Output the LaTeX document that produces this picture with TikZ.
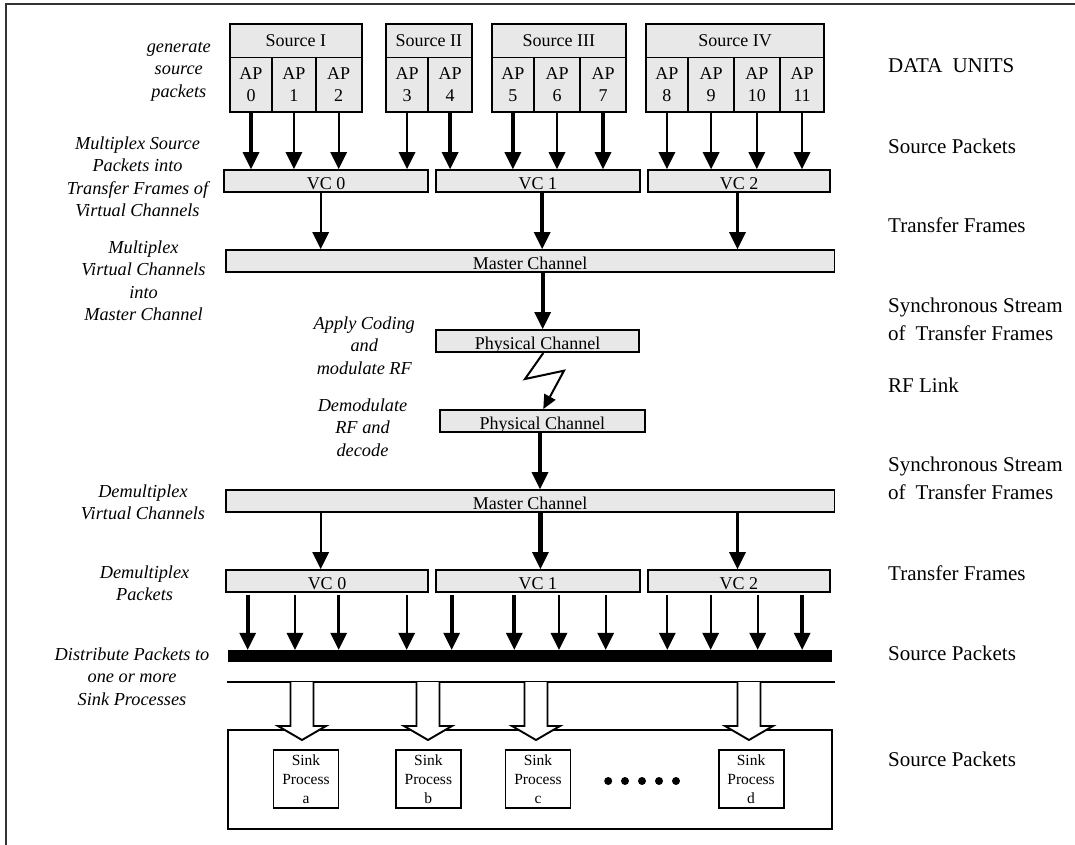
\documentclass[tikz,border=0pt]{standalone}
\usepackage{fontspec}
\setmainfont{Liberation Serif}
\usetikzlibrary{arrows.meta,calc}
\definecolor{boxgray}{RGB}{232,232,232}
\tikzset{
  box/.style={draw, fill=boxgray, line width=1.9pt, inner sep=0pt, font=\fontsize{18}{22}\selectfont, align=center},
  chan/.style={box, text height=17.5pt, text depth=0pt},
  sinkbox/.style={draw, fill=white, line width=1.9pt, inner sep=0pt, font=\fontsize{15.5}{19}\selectfont, align=center, minimum width=65, minimum height=57.7},
  lbl/.style={font=\fontsize{18.3}{22.5}\selectfont\itshape, align=center, inner sep=0pt},
  rlbl/.style={font=\fontsize{21}{27.5}\selectfont, align=left, anchor=west, inner sep=0pt},
  tarrow/.style={line width=2.2pt, -{Triangle[length=17pt,width=17pt,line width=0pt]}},
  marrow/.style={line width=2.8pt, -{Triangle[length=17pt,width=17pt,line width=0pt]}},
  karrow/.style={line width=4.3pt, -{Triangle[length=17pt,width=17pt,line width=0pt]}},
  hollow/.style={draw, fill=white, line width=1.9pt, line join=miter},
}
\begin{document}
\begin{tikzpicture}[x=1pt,y=-1pt]
\useasboundingbox (0,0) rectangle (1075,845);
% outer frame (left and top edges visible)
\draw[line width=2pt, black!80] (6,870) -- (6,4) -- (1090,4);

% ---------- sources ----------
\node[box, minimum width=131.6, minimum height=33.5] (s1) at (295.8,40.75) {Source I};
\node[box, minimum width=86.1,  minimum height=33.5] (s2) at (428.75,40.75) {Source II};
\node[box, minimum width=134.3, minimum height=33.5] (s3) at (558.85,40.75) {Source III};
\node[box, minimum width=178.7, minimum height=33.5] (s4) at (735.05,40.75) {Source IV};
\foreach \n/\c/\w in {0/251/42, 1/293.9/43.8, 2/338.7/45.8, 3/407.05/42.7, 4/450.1/43.4, 5/512.85/42.3,
                      6/557/46, 7/603/46, 8/666.95/42.5, 9/711.1/45.8, 10/756.8/45.6, 11/802/44.8}
  \node[box, minimum width=\w, minimum height=54.5] (ap\n) at (\c,84.75) {AP\\\n};

% ---------- upper chain ----------
\node[chan, minimum width=204.3, minimum height=22] (vc0t) at (326.15,181) {VC 0};
\node[chan, minimum width=204.3, minimum height=22] (vc1t) at (537.85,181) {VC 1};
\node[chan, minimum width=182,   minimum height=22] (vc2t) at (739,181) {VC 2};
\node[chan, minimum width=608.8, minimum height=22] (mastert) at (530.1,261) {Master Channel};
\node[chan, minimum width=203.6, minimum height=22] (phys1) at (537.5,341) {Physical Channel};
\node[chan, minimum width=205.3, minimum height=22.3] (phys2) at (542.35,421.15) {Physical Channel};
\node[chan, minimum width=608.8, minimum height=22] (masterb) at (530.1,501) {Master Channel};
\node[chan, minimum width=202.6, minimum height=22] (vc0b) at (327,581) {VC 0};
\node[chan, minimum width=204.3, minimum height=22] (vc1b) at (537.85,581) {VC 1};
\node[chan, minimum width=182.3, minimum height=22] (vc2b) at (738.85,581) {VC 2};

% AP -> VC arrows
\foreach \n/\v/\s in {0/vc0t/karrow, 1/vc0t/tarrow, 2/vc0t/tarrow, 3/vc0t/tarrow,
                      4/vc1t/karrow, 5/vc1t/karrow, 6/vc1t/tarrow, 7/vc1t/karrow,
                      8/vc2t/tarrow, 9/vc2t/tarrow, 10/vc2t/tarrow, 11/vc2t/tarrow}
  \draw[\s] (ap\n.south) -- (ap\n.south |- \v.north);

% VC -> master
\draw[tarrow] (320.7,0 |- vc0t.south) -- (320.7,0 |- mastert.north);
\draw[karrow] (542.2,0 |- vc1t.south) -- (542.2,0 |- mastert.north);
\draw[tarrow] (737.5,0 |- vc2t.south) -- (737.5,0 |- mastert.north);
% master -> physical
\draw[karrow] (542.7,0 |- mastert.south) -- (542.7,0 |- phys1.north);
% RF link
\draw[line width=2pt, line join=miter, -{Triangle[length=14pt,width=13pt,line width=0pt]}]
  (543.3,0 |- phys1.south) -- (525,379) -- (564,370.7) -- (543.3,0 |- phys2.north);
% physical -> master
\draw[karrow] (540,0 |- phys2.south) -- (540,0 |- masterb.north);
% master -> VCs
\draw[tarrow] (320.7,0 |- masterb.south) -- (320.7,0 |- vc0b.north);
\draw[karrow] (540.4,0 |- masterb.south) -- (540.4,0 |- vc1b.north);
\draw[tarrow] (737.5,0 |- masterb.south) -- (737.5,0 |- vc2b.north);

% ---------- packet bar ----------
\node[fill=black, inner sep=0pt, minimum width=603.4, minimum height=11.7] (bar) at (530,655.85) {};
\foreach \x/\v/\s in {247.7/vc0b/karrow, 295/vc0b/tarrow, 338.7/vc0b/marrow, 406.7/vc0b/tarrow,
                      451.7/vc1b/karrow, 514.3/vc1b/karrow, 559/vc1b/tarrow, 605.7/vc1b/tarrow,
                      667.3/vc2b/tarrow, 710.7/vc2b/tarrow, 757.7/vc2b/tarrow, 802.2/vc2b/karrow}
  \draw[\s, shorten <=2pt] (\x,0 |- \v.south) -- (\x,0 |- bar.north);

% distribution line
\coordinate (ln0) at (226.7,682);
\coordinate (ln1) at (834.8,682);
\draw[line width=1.9pt] (ln0) -- (ln1);

% ---------- sink area ----------
\node[draw, line width=1.9pt, inner sep=0pt, minimum width=604, minimum height=99.3] (sinkarea) at (529.7,779.65) {};
\node[sinkbox] (sa) at (306,778.85) {Sink\\Process\\a};
\node[sinkbox] (sb) at (428.35,778.85) {Sink\\Process\\b};
\node[sinkbox] (sc) at (538,778.85) {Sink\\Process\\c};
\node[sinkbox] (sd) at (751.05,778.85) {Sink\\Process\\d};
\foreach \c in {302,428,536,749}
  \draw[hollow] (\c-11.5,682) -- (\c-11.5,726) -- (\c-24,726) -- (\c,740) -- (\c+24,726) -- (\c+11.5,726) -- (\c+11.5,682);
\foreach \x in {608.2,625,642,659,676}
  \fill (\x,781) circle (4);

% ---------- left italic labels ----------
\node[lbl] (lgen) at (178.8,71.5) {generate\\source\\packets};
\node[lbl] (lmux1) at (137.5,177) {Multiplex Source\\Packets into\\Transfer Frames of\\Virtual Channels};
\node[lbl] (lmux2) at (143.5,280.5) {Multiplex\\Virtual Channels\\into\\Master Channel};
\node[lbl] (lapply) at (364.3,345.5) {Apply Coding\\and\\modulate RF};
\node[lbl] (ldemod) at (362.5,427.7) {Demodulate\\RF and\\decode};
\node[lbl] (ldmvc) at (143,502.3) {Demultiplex\\Virtual Channels};
\node[lbl] (ldmpk) at (144.6,583) {Demultiplex\\Packets};
\node[lbl] (ldist) at (132,676.7) {Distribute Packets to\\one or more\\Sink Processes};

% ---------- right labels ----------
\node[rlbl] (r1) at (888,66) {DATA\hspace{10pt}UNITS};
\node[rlbl] (r2) at (888,146) {Source Packets};
\node[rlbl] (r3) at (888,225.5) {Transfer Frames};
\node[rlbl] (r4) at (888,319.5) {Synchronous Stream\\of\hspace{10pt}Transfer Frames};
\node[rlbl] (r5) at (888,385.5) {RF Link};
\node[rlbl] (r6) at (888,478.5) {Synchronous Stream\\of\hspace{10pt}Transfer Frames};
\node[rlbl] (r7) at (888,573.5) {Transfer Frames};
\node[rlbl] (r8) at (888,653.5) {Source Packets};
\node[rlbl] (r9) at (888,759.5) {Source Packets};
\end{tikzpicture}
\end{document}
